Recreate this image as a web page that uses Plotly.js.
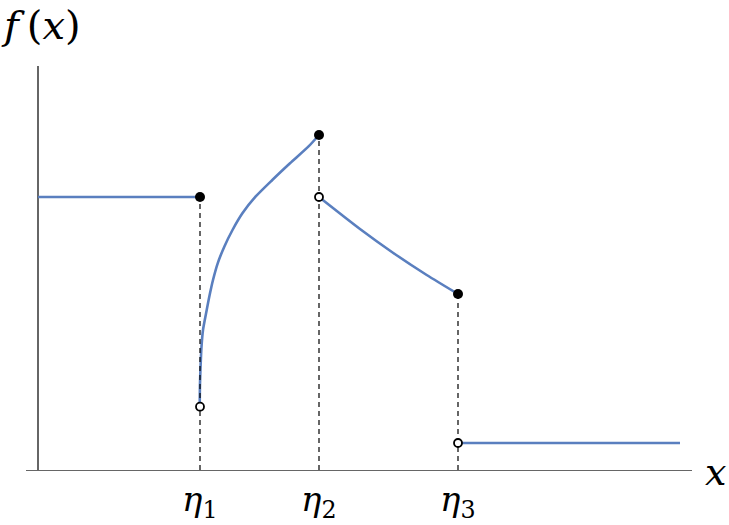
<!DOCTYPE html>
<html>
<head>
<meta charset="utf-8">
<script src="https://cdn.plot.ly/plotly-3.0.1.min.js"></script>
<style>html,body{margin:0;padding:0;background:#fff;}#chart{width:729px;height:525px;}</style>
</head>
<body>
<div id="chart"></div>
<script>
// Breakpoints
const etaX = [1.62, 2.81, 4.20];
const etaLabels = ["η<sub>1</sub>", "η<sub>2</sub>", "η<sub>3</sub>"];

// Piece 1: constant on [0, η1]
const seg1X = [0, 1.62];
const seg1Y = [2.73, 2.73];
// Piece 2: rising curve on (η1, η2]
const seg2X = [1.617, 1.62, 1.627, 1.635, 1.65, 1.687, 1.72, 1.75, 1.797, 1.863, 1.945, 2.044, 2.175, 2.343, 2.52, 2.703, 2.81];
const seg2Y = [0.633, 0.867, 1.067, 1.233, 1.40, 1.60, 1.767, 1.90, 2.067, 2.233, 2.40, 2.567, 2.733, 2.90, 3.067, 3.233, 3.35];
// Piece 3: decreasing curve on (η2, η3]
const seg3X = [2.81, 3.22, 3.553, 3.887, 4.20];
const seg3Y = [2.73, 2.41, 2.17, 1.95, 1.76];
// Piece 4: constant on (η3, end]
const seg4X = [4.20, 6.42];
const seg4Y = [0.27, 0.27];

// Endpoints
const closedX = [1.62, 2.81, 4.20];
const closedY = [2.73, 3.35, 1.76];
const openX = [1.62, 2.81, 4.20];
const openY = [0.633, 2.73, 0.27];

const blue = '#5a7fbf';
const traces = [];
[[seg1X, seg1Y, 'linear'], [seg2X, seg2Y, 'spline'], [seg3X, seg3Y, 'spline'], [seg4X, seg4Y, 'linear']].forEach(([xs, ys, sh]) => {
  traces.push({x: xs, y: ys, mode: 'lines', line: {color: blue, width: 2.6, shape: sh, smoothing: 0.7}, hoverinfo: 'skip', showlegend: false, cliponaxis: false});
});
// dashed guides from axis to the upper endpoint
etaX.forEach((ex, i) => {
  traces.push({x: [ex, ex], y: [0, closedY[i]], mode: 'lines', line: {color: '#000', width: 1.2, dash: '5px,4px'}, hoverinfo: 'skip', showlegend: false});
});
traces.push({x: closedX, y: closedY, mode: 'markers', marker: {color: '#000', size: 10, line: {width: 0}}, showlegend: false, cliponaxis: false});
traces.push({x: openX, y: openY, mode: 'markers', marker: {color: '#fff', size: 8, line: {color: '#000', width: 1.8}}, showlegend: false, cliponaxis: false});

const serif = "DejaVu Serif";
const annotations = etaX.map((ex, i) => ({
  x: ex, y: -0.079, xref: 'x', yref: 'paper', text: '<i>' + etaLabels[i].replace('<sub>', '</i><sub>'), showarrow: false,
  xanchor: 'center', yanchor: 'middle', font: {family: serif, size: 34, color: '#000'}
}));
annotations.push({x: 0.0225, y: 1.102, xref: 'paper', yref: 'paper', text: '<i>f</i>\u2009(<i>x</i>)', showarrow: false,
  xanchor: 'center', yanchor: 'middle', font: {family: serif, size: 40, color: '#000'}});
annotations.push({x: 1.036, y: -0.005, xref: 'paper', yref: 'paper', text: '<i>x</i>', showarrow: false,
  xanchor: 'center', yanchor: 'middle', font: {family: serif, size: 38, color: '#000'}});

const layout = {
  width: 729, height: 525,
  margin: {l: 26, r: 37, t: 66, b: 55},
  paper_bgcolor: '#fff', plot_bgcolor: '#fff',
  xaxis: {range: [-0.12, 6.54], showgrid: false, showticklabels: false, ticks: '',
          showline: true, linecolor: '#666', linewidth: 1.3, mirror: false,
          zeroline: true, zerolinecolor: '#666', zerolinewidth: 1.3, fixedrange: true},
  yaxis: {range: [0, 4.04], showgrid: false, showticklabels: false, ticks: '',
          showline: false, zeroline: false, fixedrange: true},
  annotations: annotations,
  showlegend: false
};
Plotly.newPlot('chart', traces, layout, {displayModeBar: false, staticPlot: true});
</script>
</body>
</html>
